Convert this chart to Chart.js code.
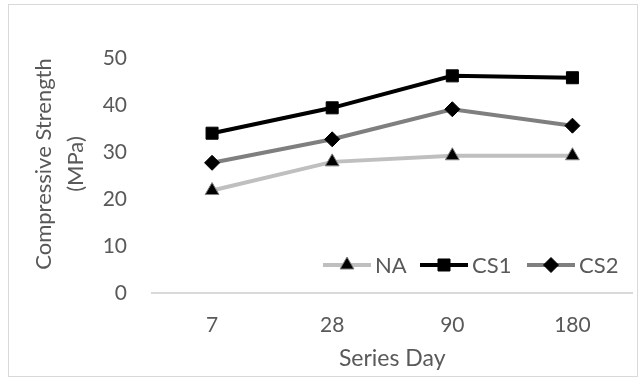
<!DOCTYPE html>
<html><head><meta charset="utf-8">
<script src="https://cdn.jsdelivr.net/npm/chart.js@4"></script>
<style>
html,body{margin:0;padding:0;background:#fff;}
#wrap{position:absolute;left:0;top:0;width:642px;height:378px;}
#frame{position:absolute;left:8px;top:4px;width:630px;height:373px;border:1.5px solid #d9d9d9;box-sizing:border-box;pointer-events:none;}
</style></head>
<body>
<div id="wrap"><canvas id="c" width="642" height="378"></canvas><div id="frame"></div></div>
<script>
const categories = ['7','28','90','180'];
const naValues  = [21.8, 27.9, 29.2, 29.2];
const cs1Values = [34.0, 39.4, 46.2, 45.8];
const cs2Values = [27.7, 32.7, 39.1, 35.6];
const yTicks = [0,10,20,30,40,50];
const yTitle = ['Compressive Strength','(MPa)'];
const FONT = 'Lato, "Open Sans", sans-serif';

const legendPlugin = {
  id:'inLegend',
  afterDraw(chart){
    const ctx = chart.ctx;
    const items = [{ds:0,x:323},{ds:1,x:420},{ds:2,x:527}];
    const y = 265;
    ctx.save();
    items.forEach(it=>{
      const d = chart.data.datasets[it.ds];
      ctx.strokeStyle = d.borderColor; ctx.lineWidth = d.borderWidth;
      ctx.beginPath(); ctx.moveTo(it.x,y); ctx.lineTo(it.x+48,y); ctx.stroke();
      ctx.fillStyle = d.pointBackgroundColor; ctx.strokeStyle = d.pointBorderColor; ctx.lineWidth = d.pointBorderWidth;
      Chart.helpers.drawPoint(ctx,{pointStyle:d.pointStyle,radius:d.pointRadius,borderWidth:d.pointBorderWidth},it.x+24,y);
      ctx.fillStyle='#595959'; ctx.font='22px '+FONT; ctx.textBaseline='middle'; ctx.textAlign='left';
      ctx.fillText(d.label,it.x+52,y+1);
    });
    // y-axis title
    ctx.translate(0,164);
    ctx.rotate(-Math.PI/2);
    ctx.fillStyle='#595959'; ctx.font='22px '+FONT; ctx.textAlign='center'; ctx.textBaseline='middle';
    ctx.fillText(yTitle[0],0,44);
    ctx.fillText(yTitle[1],0,76);
    ctx.restore();
  }
};

new Chart(document.getElementById('c'),{
  type:'line',
  data:{labels:categories,datasets:[
    {label:'NA',data:naValues,borderColor:'#bfbfbf',borderWidth:4,pointStyle:'triangle',pointRadius:8,pointBackgroundColor:'#000',pointBorderColor:'#7f7f7f',pointBorderWidth:1,tension:0},
    {label:'CS1',data:cs1Values,borderColor:'#000',borderWidth:4,pointStyle:'rect',pointRadius:8.5,pointBackgroundColor:'#000',pointBorderColor:'#000',pointBorderWidth:1,tension:0},
    {label:'CS2',data:cs2Values,borderColor:'#7f7f7f',borderWidth:4,pointStyle:'rectRot',pointRadius:7.5,pointBackgroundColor:'#000',pointBorderColor:'#000',pointBorderWidth:1,tension:0}
  ]},
  options:{
    responsive:false,animation:false,
    layout:{padding:{left:28,right:7,top:58,bottom:6}},
    plugins:{legend:{display:false},tooltip:{enabled:false}},
    scales:{
      x:{offset:true,grid:{display:false,drawTicks:false},border:{color:'#d9d9d9',width:2},
         afterFit:(s)=>{s.height=79;},
         ticks:{color:'#595959',font:{family:FONT,size:21},padding:20,maxRotation:0},
         title:{display:true,text:'Series Day',color:'#595959',font:{family:FONT,size:23},padding:{top:4,bottom:0}}},
      y:{min:0,max:50,afterBuildTicks:(a)=>{a.ticks=yTicks.map(v=>({value:v}));},
         afterFit:(s)=>{s.width=124;},
         grid:{display:false,drawTicks:false},border:{display:false},
         ticks:{color:'#595959',font:{family:FONT,size:21},padding:25},
         title:{display:false}}
    }
  },
  plugins:[legendPlugin]
});
</script>
</body></html>
